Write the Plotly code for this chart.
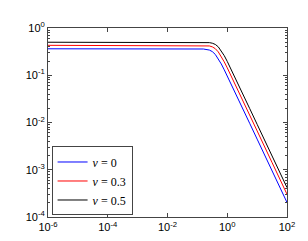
import plotly.graph_objects as go

x_vals = [1e-6, 1e-2, 0.1, 0.1585, 0.2512, 0.3162, 0.3981, 0.5012, 0.6310, 0.7943, 1.0,
          1.2589, 1.5849, 1.9953, 2.5119, 3.1623, 5.623, 10.0, 31.62, 100.0]
y_nu0 = [0.363, 0.363, 0.3625, 0.3593, 0.3416, 0.3166, 0.2758, 0.2244, 0.1735, 0.1303, 0.0966,
         0.0713, 0.0524, 0.0385, 0.0283, 0.0208, 0.00962, 0.00445, 0.000951, 0.000203]
y_nu03 = [0.430, 0.430, 0.430, 0.428, 0.417, 0.399, 0.365, 0.312, 0.250, 0.1916, 0.1434,
          0.1061, 0.0781, 0.0575, 0.0423, 0.0310, 0.01435, 0.00664, 0.00142, 0.000303]
y_nu05 = [0.500, 0.500, 0.500, 0.498, 0.490, 0.477, 0.449, 0.399, 0.331, 0.2596, 0.1963,
          0.1461, 0.1078, 0.0793, 0.0583, 0.0428, 0.0198, 0.00916, 0.00196, 0.000419]

series = [
    ("<i>ν</i> = 0", y_nu0, "#0000ff"),
    ("<i>ν</i> = 0.3", y_nu03, "#ff0000"),
    ("<i>ν</i> = 0.5", y_nu05, "#000000"),
]

x_ticks = [1e-6, 1e-4, 1e-2, 1, 100]
x_ticktext = ["10<sup>-6</sup>", "10<sup>-4</sup>", "10<sup>-2</sup>", "10<sup>0</sup>", "10<sup>2</sup>"]
y_ticks = [1e-4, 1e-3, 1e-2, 1e-1, 1]
y_ticktext = ["10<sup>-4</sup>", "10<sup>-3</sup>", "10<sup>-2</sup>", "10<sup>-1</sup>", "10<sup>0</sup>"]

fig = go.Figure()
for name, ys, color in series:
    fig.add_trace(go.Scatter(x=x_vals, y=ys, mode="lines", name=name,
                             line=dict(color=color, width=1, shape="linear")))

minor_y = [m * 10 ** k for k in range(-4, 0) for m in range(2, 10)]

axis_common = dict(showline=True, linecolor="#444", linewidth=1, mirror="allticks",
                   ticks="inside", ticklen=4, tickcolor="#444", showgrid=False, zeroline=False,
                   tickfont=dict(family="Liberation Sans, Arial", size=11, color="#000"))

fig.update_xaxes(type="log", range=[-6, 2], tickmode="array", tickvals=x_ticks, ticktext=x_ticktext,
                 **axis_common)
fig.update_yaxes(type="log", range=[-4, 0], tickmode="array", tickvals=y_ticks, ticktext=y_ticktext,
                 minor=dict(tickmode="array", tickvals=minor_y, ticks="inside", ticklen=2, tickcolor="#444"),
                 **axis_common)

fig.update_layout(
    width=308, height=241,
    margin=dict(l=40, r=29, t=17, b=32),
    paper_bgcolor="white", plot_bgcolor="white",
    showlegend=True,
    legend=dict(x=0.015, y=0.008, xanchor="left", yanchor="bottom",
                bgcolor="white", bordercolor="#444", borderwidth=1,
                font=dict(family="Liberation Serif, Times New Roman", size=12, color="#000"),
                itemwidth=30, tracegroupgap=0),
)

fig.write_html("out.html")
